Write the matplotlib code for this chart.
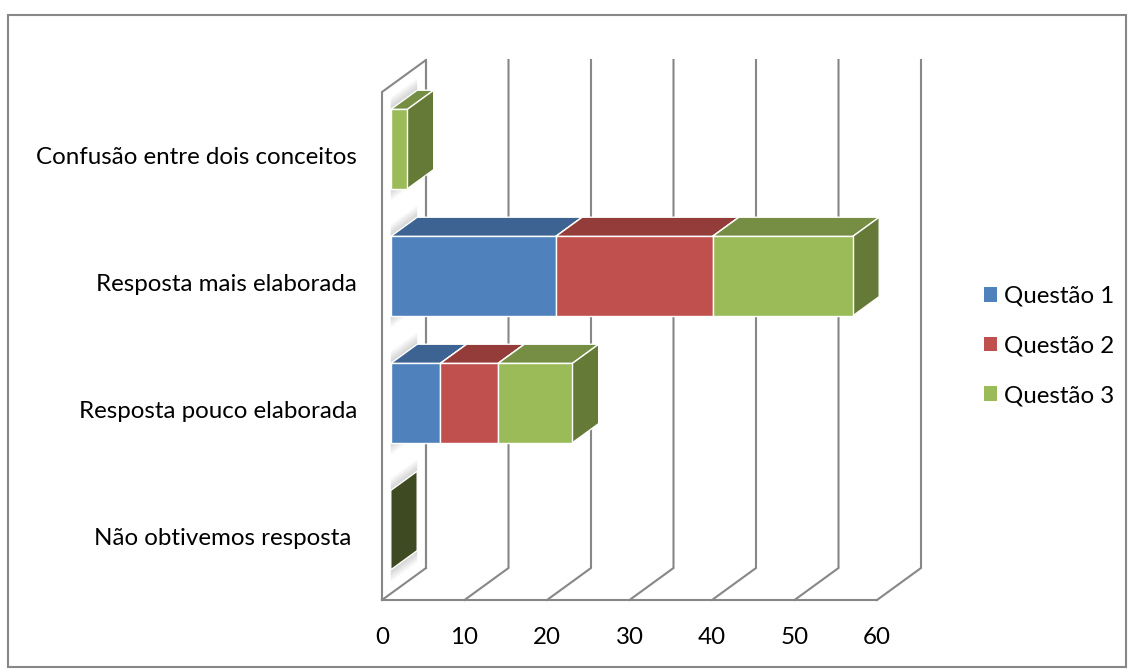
"""
3D-style stacked horizontal bars: answer categories per question
"""
import matplotlib.pyplot as plt
from matplotlib.patches import Polygon, Rectangle, Patch

plt.rcParams["font.family"] = ["Lato", "DejaVu Sans"]

categories = [
    "Confusão entre dois conceitos",
    "Resposta mais elaborada",
    "Resposta pouco elaborada",
    "Não obtivemos resposta ",
]
series = ["Questão 1", "Questão 2", "Questão 3"]
questao_1 = [0, 20, 6, 0]
questao_2 = [0, 19, 7, 0]
questao_3 = [2, 17, 9, 0]
x_ticks = [0, 10, 20, 30, 40, 50, 60]

values = [questao_1, questao_2, questao_3]

front_colors = ["#4F81BD", "#C0504D", "#9BBB59"]
top_colors = ["#3C6391", "#943C3A", "#768E43"]
side_colors = ["#3A5F8B", "#8E3A38", "#657A37"]
empty_side = "#3E4A22"
grid_color = "#878787"
font_size = 17.4

# oblique projection of the plot box (pixel units)
x0, px_per_unit = 382.0, 8.25
y_top, y_bottom = 92.0, 600.0
depth_dx, depth_dy = 44.0, -32.0
bar_d0, bar_d1 = 0.2, 0.8
gap_width = 0.6


def proj(v, y, d):
    return x0 + v * px_per_unit + d * depth_dx, y + d * depth_dy


def wall_shadow(ax, y_edge, direction, height=12, steps=8):
    # soft grey smear cast on the left wall next to a bar edge
    for j in range(steps):
        a = y_edge + direction * height * j / steps
        b = y_edge + direction * height * (j + 1) / steps
        quad = [proj(0, a, bar_d0), proj(0, a, bar_d1), proj(0, b, bar_d1), proj(0, b, bar_d0)]
        alpha = 0.35 * (1 - j / steps)
        ax.add_patch(Polygon(quad, closed=True, fc="#808080", ec="none", alpha=alpha, zorder=2))


fig = plt.figure(figsize=(11.3, 6.69), dpi=100)
ax = fig.add_axes([0, 0, 1, 1])
ax.set_xlim(0, 1130)
ax.set_ylim(669, 0)
ax.axis("off")

# outer chart border
ax.add_patch(Rectangle((8, 15), 1118, 652, fill=False, ec=grid_color, lw=1.5))

vmax = x_ticks[-1]
lw_grid = 1.5

# left wall outline
wall = [proj(0, y_bottom, 0), proj(0, y_top, 0), proj(0, y_top, 1), proj(0, y_bottom, 1)]
ax.plot(*zip(*wall), color=grid_color, lw=lw_grid, zorder=1, solid_joinstyle="miter")
# floor front edge
ax.plot(*zip(proj(0, y_bottom, 0), proj(vmax, y_bottom, 0)), color=grid_color, lw=lw_grid, zorder=1)

for t in x_ticks:
    floor = [proj(t, y_bottom, 0), proj(t, y_bottom, 1), proj(t, y_top, 1)]
    ax.plot(*zip(*floor), color=grid_color, lw=lw_grid, zorder=1, solid_joinstyle="miter")
    fx, fy = proj(t, y_bottom, 0)
    ax.text(fx, fy + 37, f"{t}", ha="center", va="center", fontsize=font_size, color="#000000")

band = (y_bottom - y_top) / len(categories)
bar_h = band / (1 + gap_width)

for i, cat in enumerate(categories):
    yc = y_top + band * (i + 0.5)
    yt, yb = yc - bar_h / 2, yc + bar_h / 2
    ax.text(357, yc + 2, cat, ha="right", va="center", fontsize=font_size, color="#000000")

    wall_shadow(ax, yt, -1)
    wall_shadow(ax, yb, 1)

    total = sum(s[i] for s in values)
    if total == 0:
        face = [proj(0, yt, bar_d0), proj(0, yt, bar_d1), proj(0, yb, bar_d1), proj(0, yb, bar_d0)]
        ax.add_patch(Polygon(face, closed=True, fc=empty_side, ec="white", lw=1, zorder=3))
        continue

    left = 0
    for k, s in enumerate(values):
        v = s[i]
        if v == 0:
            continue
        right = left + v
        top = [proj(left, yt, bar_d0), proj(left, yt, bar_d1),
               proj(right, yt, bar_d1), proj(right, yt, bar_d0)]
        side = [proj(right, yt, bar_d0), proj(right, yt, bar_d1),
                proj(right, yb, bar_d1), proj(right, yb, bar_d0)]
        front = [proj(left, yt, bar_d0), proj(right, yt, bar_d0),
                 proj(right, yb, bar_d0), proj(left, yb, bar_d0)]
        ax.add_patch(Polygon(top, closed=True, fc=top_colors[k], ec="white", lw=1, zorder=3))
        ax.add_patch(Polygon(side, closed=True, fc=side_colors[k], ec="white", lw=1, zorder=3))
        ax.add_patch(Polygon(front, closed=True, fc=front_colors[k], ec="white", lw=1, zorder=3))
        left = right

handles = [Patch(fc=c, ec="none") for c in front_colors]
ax.legend(
    handles, series, loc="center left", bbox_to_anchor=(974 / 1130, 1 - 346 / 669),
    frameon=False, fontsize=font_size, handlelength=0.55, handleheight=0.55,
    handletextpad=0.3, labelspacing=1.18, borderaxespad=0,
)

plt.savefig("out.png", dpi=100)
